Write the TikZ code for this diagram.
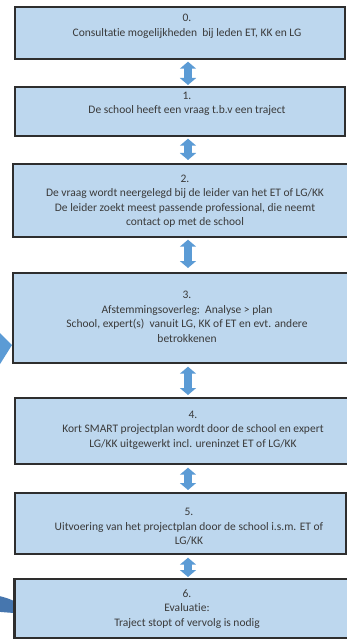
\documentclass[tikz,border=0pt]{standalone}
\usepackage{fontspec}
\setmainfont{Carlito}[Ligatures={NoCommon}]
\usetikzlibrary{arrows.meta,calc}
\definecolor{boxfill}{HTML}{BDD7EE}
\definecolor{boxline}{HTML}{2E2E2E}
\definecolor{txtcol}{HTML}{3A3A3A}
\definecolor{arrfill}{HTML}{5B9BD5}
\definecolor{arrdark}{HTML}{4676AE}
\tikzset{
  box/.style={draw=boxline, line width=1.7pt, fill=boxfill, inner sep=0pt, anchor=north west},
  txt/.style={text=txtcol, align=center, inner sep=0pt, font=\fontsize{11.5}{14.5}\selectfont},
  conn/.style={line width=8pt, draw=arrfill, {Triangle[width=16pt,length=7pt]}-{Triangle[width=16pt,length=7pt]}}
}
\begin{document}
\begin{tikzpicture}[x=1pt,y=-1pt]
\useasboundingbox (0,0) rectangle (347,639);
\clip (0,0) rectangle (347,639);
\fill[white] (0,0) rectangle (347,639);
\coordinate (ax) at (188,0);
% boxes
\node[box, minimum width=330pt, minimum height=52pt] (b0) at (14,6) {};
\node[box, minimum width=330pt, minimum height=49pt] (b1) at (14,86) {};
\node[box, minimum width=352pt, minimum height=73pt] (b2) at (12,163) {};
\node[box, minimum width=352pt, minimum height=90pt] (b3) at (12,272) {};
\node[box, minimum width=348pt, minimum height=66pt] (b4) at (14,397) {};
\node[box, minimum width=331pt, minimum height=61pt] (b5) at (14,492) {};
\node[box, minimum width=348pt, minimum height=59pt] (b6) at (14,578) {};
% texts
\node[txt] (t0) at (187,26.5) {0.\\Consultatie mogelijkheden\ \ bij leden ET, KK en LG};
\node[txt] (t1) at (187,104) {1.\\De school heeft een vraag t.b.v een traject};
\node[txt] (t2) at (185,201) {2.\\De vraag wordt neergelegd bij de leider van het ET of LG/KK\\De leider zoekt meest passende professional, die neemt\\contact op met de school};
\node[txt] (t3) at (187,317) {3.\\Afstemmingsoverleg:\ \ Analyse > plan\\School, expert(s)\ \ vanuit LG, KK of ET en evt. andere\\betrokkenen};
\node[txt] (t4) at (193,430) {4.\\Kort SMART projectplan wordt door de school en expert\\LG/KK uitgewerkt incl. ureninzet ET of LG/KK};
\node[txt] (t5) at (189,527) {5.\\Uitvoering van het projectplan door de school i.s.m. ET of\\LG/KK};
\node[txt] (t6) at (187,609) {6.\\Evaluatie:\\Traject stopt of vervolg is nodig};
% connectors
\draw[conn] ([yshift=-2pt]b0.south -| ax) -- ([yshift=1pt]b1.north -| ax);
\draw[conn] ([yshift=-2pt]b1.south -| ax) -- ([yshift=3pt]b2.north -| ax);
\draw[conn] ([yshift=-2pt]b2.south -| ax) -- ([yshift=4pt]b3.north -| ax);
\draw[conn] ([yshift=-3pt]b3.south -| ax) -- ([yshift=2pt]b4.north -| ax);
\draw[conn] ([yshift=-3pt]b4.south -| ax) -- ([yshift=2pt]b5.north -| ax);
\draw[conn] ([yshift=-3pt]b5.south -| ax) -- ([yshift=1pt]b6.north -| ax);
% curved return arrow (mostly outside the picture)
\fill[arrdark] (-10,594) .. controls (0,596) and (8,598) .. (b6.west |- 0,601) -- (b6.west |- 0,613) .. controls (8,612.5) and (0,612) .. (-10,611) -- cycle;
\fill[arrfill] (-10,323) -- (b3.west |- 0,345) -- (-10,380) -- cycle;
\draw[draw=boxline, line width=1.7pt] (b6.north west) -- (b6.south west);
\end{tikzpicture}
\end{document}
